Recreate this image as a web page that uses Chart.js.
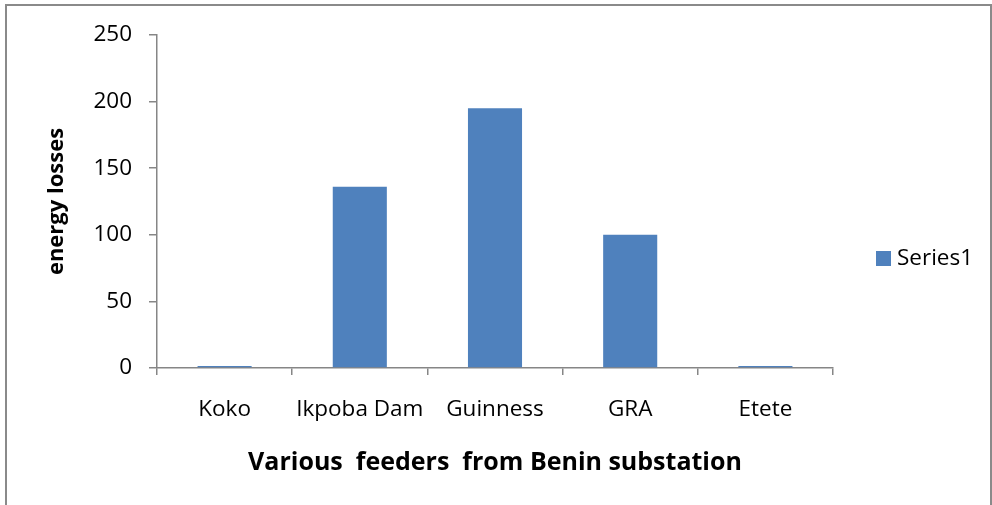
<!DOCTYPE html>
<html>
<head>
<meta charset="utf-8">
<script src="https://cdn.jsdelivr.net/npm/chart.js@4/dist/chart.umd.min.js"></script>
<style>
  html, body { margin: 0; padding: 0; background: #fff; }
  body { width: 992px; height: 505px; position: relative; overflow: hidden; }
  #frame { position: absolute; left: 5px; top: 4px; width: 987px; height: 600px; border: 2px solid #8a8a8a; box-sizing: border-box; pointer-events: none; }
  #wrap { position: absolute; left: 0; top: 0; width: 992px; height: 505px; }
</style>
</head>
<body>
<div id="wrap"><canvas id="c" width="992" height="505"></canvas></div>
<div id="frame"></div>
<script>
const categories = ["Koko", "Ikpoba Dam", "Guinness", "GRA", "Etete"];
const seriesName = "Series1";
const seriesValues = [1.5, 136, 195, 100, 1.5];
const yTicks = [0, 50, 100, 150, 200, 250];
const xTitle = "Various  feeders  from Benin substation";
const yTitle = "energy losses";

const FONT = "'Open Sans', Lato, sans-serif";
const AXIS = "#868686";
const BAR = "#4F81BD";
const TICK_SIZE = 22.5;

const legendPlugin = {
  id: 'fixedLegend',
  afterDraw(chart) {
    const ctx = chart.ctx;
    const ds = chart.data.datasets[0];
    ctx.save();
    ctx.fillStyle = ds.backgroundColor;
    ctx.fillRect(876, 251, 15, 15);
    ctx.fillStyle = "#000";
    ctx.font = TICK_SIZE + "px " + FONT;
    ctx.textBaseline = "middle";
    ctx.textAlign = "left";
    ctx.fillText(ds.label, 897, 259);
    ctx.restore();
  }
};

new Chart(document.getElementById('c'), {
  type: 'bar',
  data: {
    labels: categories,
    datasets: [{
      label: seriesName,
      data: seriesValues,
      backgroundColor: BAR,
      borderWidth: 0,
      categoryPercentage: 1.0,
      barPercentage: 0.4
    }]
  },
  options: {
    responsive: false,
    animation: false,
    devicePixelRatio: 1,
    layout: { padding: { left: 20, right: 159, top: 35, bottom: 10 } },
    plugins: { legend: { display: false }, tooltip: { enabled: false } },
    scales: {
      x: {
        offset: true,
        grid: { display: true, drawOnChartArea: false, drawTicks: true, tickLength: 7, color: AXIS, lineWidth: 1.5, offset: true },
        border: { display: true, color: AXIS, width: 1.5 },
        ticks: { color: "#000", font: { family: FONT, size: TICK_SIZE }, padding: 21, maxRotation: 0 },
        title: { display: true, text: xTitle, color: "#000", font: { family: FONT, size: 25, weight: 'bold' }, padding: { top: 0, bottom: 17 } },
        afterFit(scale) { scale.height = 127; }
      },
      y: {
        min: 0, max: 250,
        afterBuildTicks(scale) { scale.ticks = yTicks.map(v => ({ value: v })); },
        grid: { display: true, drawOnChartArea: false, drawTicks: true, tickLength: 8, color: AXIS, lineWidth: 1.5 },
        border: { display: true, color: AXIS, width: 1.5 },
        ticks: { color: "#000", font: { family: FONT, size: TICK_SIZE }, padding: 17 },
        title: { display: true, text: yTitle, color: "#000", font: { family: FONT, size: 22, weight: 'bold' }, padding: { top: 24, bottom: 0 } },
        afterFit(scale) { scale.width = 137; }
      }
    }
  },
  plugins: [legendPlugin]
});
</script>
</body>
</html>
